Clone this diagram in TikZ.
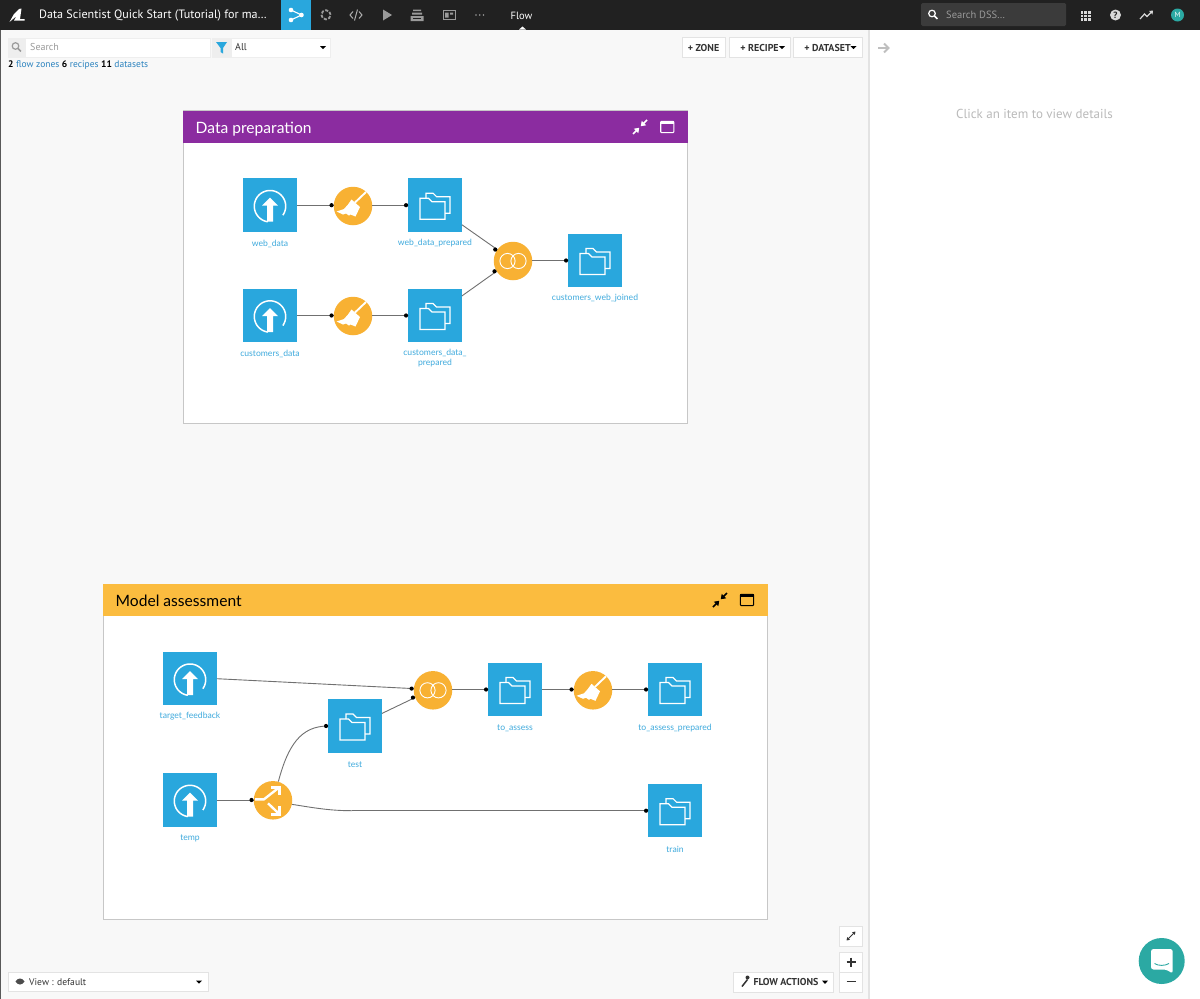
\documentclass[tikz,border=0pt]{standalone}
\usepackage{fontspec}
\setmainfont{Lato}
\newfontfamily\uifont{PT Sans}
\usetikzlibrary{arrows.meta,calc}
\definecolor{dsblue}{HTML}{29A7DD}
\definecolor{lblblue}{HTML}{3FAADD}
\definecolor{linkblue}{HTML}{2B82BE}
\definecolor{recipeor}{HTML}{F8B133}
\definecolor{zonepurple}{HTML}{8B2CA0}
\definecolor{zoneorange}{HTML}{FBBC3F}
\definecolor{barblack}{HTML}{212121}
\definecolor{canvasgr}{HTML}{F8F8F8}
\definecolor{edgegr}{HTML}{E3E3E3}
\definecolor{teal}{HTML}{2BA9A3}
\definecolor{iconfg}{HTML}{9A9A9A}
\definecolor{txtdark}{HTML}{333333}
\definecolor{connline}{HTML}{707070}
\tikzset{
  ds/.style={rectangle,fill=dsblue,minimum size=53.5pt,inner sep=0pt},
  recipe/.style={circle,fill=recipeor,minimum size=38.5pt,inner sep=0pt},
  lbl/.style={text=lblblue,inner sep=0pt,align=center,font=\fontsize{8.6}{10.2}\selectfont},
  conn/.style={draw=connline,line width=0.9pt},
  dotn/.style={circle,fill=black,draw=none,minimum size=4.2pt,inner sep=0pt,pos=1,xshift=-2pt},
  plain/.style={draw=connline,line width=0.9pt},
  zonebox/.style={draw=black!22,fill=white,line width=0.8pt},
  zonetitle/.style={anchor=west,inner sep=0pt,text height=11.5pt,text depth=3.5pt,font=\fontsize{15.6}{18}\selectfont},
  uibtn/.style={draw=edgegr,fill=white,line width=0.8pt,rectangle,inner sep=0pt,text=txtdark,font=\uifont\bfseries\fontsize{10}{12}\selectfont},
  uitxt/.style={inner sep=0pt,anchor=west,font=\uifont\fontsize{10}{12}\selectfont},
  foldericon/.pic={
    \draw[white,line width=1.3pt,line join=miter] (-15,-7)--(-6.5,-7)--(-3,-3.5)--(10,-3.5)--(10,14)--(-15,14)--cycle;
    \draw[white,line width=1.1pt] (-9,-7)--(-9,-12)--(-2,-12)--(1.5,-8.5)--(15,-8.5)--(15,8)--(10,8);
  },
  uploadicon/.pic={
    \draw[white,line width=1.5pt] plot[domain=-35:262,samples=50] ({15.7*cos(\x)},{1-15.7*sin(\x)});
    \fill[white] (0,-7.5)--(8,0.5)--(3,0.5)--(3,16.5)--(-3,16.5)--(-3,0.5)--(-8,0.5)--cycle;
  },
  broomicon/.pic={
    \draw[white,line width=1.9pt] (13,-14)--(2,-3.5);
    \fill[white] (-1.5,-6.5)--(7,1)--(2.5,10.5)--(-2.5,8.5)--(-4,9.5)--(-7,7.5)--(-10,8.5)--(-16.5,5.5)--(-9,3)--(-5,-1.5)--cycle;
  },
  joinicon/.pic={
    \draw[white,line width=0.9pt] (-5.5,0) circle[radius=7.6pt] (5.5,0) circle[radius=7.6pt];
  },
  spliticon/.pic={
    \draw[white,line width=2.4pt,line join=miter] (-18,-1)--(-9,-1)--(5,-12);
    \draw[white,line width=2.4pt] (-2,-13)--(6.5,-13)--(6.5,-5);
    \draw[white,line width=2.4pt] (-5,3)--(6,13.5);
    \draw[white,line width=2.4pt] (-2,14)--(6.5,14)--(6.5,5.5);
  },
  collapseicon/.pic={
    \draw[line width=1.7pt,-{Triangle[length=4.4pt,width=6pt]}] (-7,7)--(-0.8,0.8);
    \draw[line width=1.7pt,-{Triangle[length=4.4pt,width=6pt]}] (7,-7)--(0.8,-0.8);
  },
  windowicon/.pic={
    \draw[line width=1.1pt,rounded corners=0.8pt] (-6.6,-5.5) rectangle (6.6,5.6);
    \fill (-6.6,-6)rectangle(6.6,-3.4);
  },
  caretic/.pic={\fill (-3,-1.5)--(3,-1.5)--(0,1.6)--cycle;},
  lensic/.pic={
    \draw[line width=1.2pt] (-1,-1) circle[radius=3.3pt];
    \draw[line width=1.5pt] (1.4,1.4)--(4.4,4.4);
  }
}
\begin{document}
\begin{tikzpicture}[x=1pt,y=-1pt]
\useasboundingbox (0,0) rectangle (1200,999);
% canvas and panels
\fill[canvasgr] (0,0) rectangle (869,999);
\fill[white] (869,0) rectangle (1200,999);
\fill[edgegr] (868,29) rectangle (870,999);
\fill[black!65] (0,29) rectangle (0.7,999);
% top bar
\fill[barblack] (0,0) rectangle (1200,29.5);
\fill[dsblue] (281,0) rectangle (311,29.5);
\fill[white] (9.5,22)--(14,14)--(19,9)--(21.5,8.5)--(20,19)--(24.5,19)--(24.5,20.5)--(14,20.5)--(16.5,16)--cycle;
\node[uitxt,text=white] (projtitle) at (39,15.5) {\fontsize{12.1}{14}\selectfont Data Scientist Quick Start (Tutorial) for ma\dots};
% tab icons
\draw[white,line width=1.1pt] (291,10)--(301.5,15)--(291,20);
\fill[white] (291,10) circle[radius=2.3pt] (301.5,15) circle[radius=2.3pt] (291,20) circle[radius=2.3pt];
\draw[iconfg,line width=1.8pt,dash pattern=on 3.2pt off 1.5pt] (326,14.8) circle[radius=4.6pt];
\draw[iconfg!80,line width=1pt] (353,11.5)--(350,15)--(353,18.5) (359,11.5)--(362,15)--(359,18.5) (357.5,9.5)--(354.5,20.5);
\fill[iconfg] (383,9.5)--(392,15)--(383,20.5)--cycle;
\fill[iconfg] (413,9.5) rectangle (421,11) (412,12.5) rectangle (422,14.5) (410.5,16) rectangle (423.5,21);
\fill[barblack] (413,18) rectangle (421,19);
\draw[iconfg,line width=1pt] (443,10.5) rectangle (455,19.5);
\fill[iconfg] (445,12.5) rectangle (448.5,17.5) (450,12.5) rectangle (453,14.5);
\fill[iconfg] (476,15) circle[radius=0.9pt] (479.7,15) circle[radius=0.9pt] (483.4,15) circle[radius=0.9pt];
\node[uitxt,text=white,anchor=center] (flowtab) at (521.5,15.5) {\fontsize{10.5}{13}\selectfont Flow};
\fill[white] (519,29.6)--(522.5,26.5)--(526,29.6)--cycle;
% top right
\fill[white!23!black,rounded corners=1.5pt] (921,3) rectangle (1066,26);
\path[white] (933,14.5) pic[white] {lensic};
\node[uitxt,text=iconfg] (searchdss) at (946,15) {\fontsize{10.5}{12}\selectfont Search DSS\dots};
\foreach \i in {0,1,2}{\foreach \j in {0,1,2}{\fill[white!85!black] (1080.7+\i*3.7,10.8+\j*3.7) rectangle ++(2.7,2.7);}}
\fill[white!85!black] (1115.5,15) circle[radius=5.5pt];
\node[inner sep=0pt,text=barblack,font=\uifont\bfseries\fontsize{9}{9}\selectfont] (helpq) at (1115.5,15) {?};
\draw[white!85!black,line width=1.2pt] (1140,19)--(1144.5,14)--(1147,16.5)--(1152,11.5);
\fill[white!85!black] (1149,11)--(1153,10.5)--(1152.5,14.5)--cycle;
\node[circle,fill=teal,minimum size=13pt,inner sep=0pt,text=white,font=\uifont\fontsize{7.5}{8}\selectfont] (avatar) at (1177.5,15) {M};
% search row
\fill[edgegr!60] (7.5,37.5) rectangle (210.5,57.5);
\fill[white] (26,38.5) rectangle (209.5,56.5);
\path (16.5,47) pic[iconfg] {lensic};
\node[uitxt,text=iconfg] (searchtxt) at (30,47) {\fontsize{10}{12}\selectfont Search};
\fill[edgegr!60] (212,37.5) rectangle (331,57.5);
\fill[white] (232,38.5) rectangle (330,56.5);
\fill[dsblue] (216,42)--(227,42)--(223,48)--(223,53.5)--(220.5,52)--(220.5,48)--cycle;
\node[uitxt,text=txtdark] (alltxt) at (235,47) {\fontsize{10}{12}\selectfont All};
\path (323,47.5) pic[black] {caretic};
\node[uitxt] (status) at (8,65.5) {\fontsize{9.5}{12}\selectfont\textbf{2} \textcolor{linkblue}{flow zones} \textbf{6} \textcolor{linkblue}{recipes} \textbf{11} \textcolor{linkblue}{datasets}};
\node[uibtn,minimum width=43pt,minimum height=19.5pt] (zonebtn) at (703.5,47.5) {+ ZONE};
\node[uibtn,minimum width=61pt,minimum height=19.5pt] (recipebtn) at (759.5,47.5) {+ RECIPE\hspace{16pt}};
\path (782,47.5) pic[black] {caretic};
\node[uibtn,minimum width=69pt,minimum height=19.5pt] (datasetbtn) at (827.5,47.5) {+ DATASET\hspace{21pt}};
\path (853.5,47.5) pic[black] {caretic};
% right panel
\draw[black!25,line width=2pt] (878,48)--(888,48);
\draw[black!25,line width=2pt] (884,43.5)--(888.5,48)--(884,52.5);
\node[inner sep=0pt,text=black!27,font=\uifont\fontsize{13}{16}\selectfont] (clickmsg) at (1034.5,114) {Click an item to view details};
% ZONE 1
\draw[zonebox] (183.5,110.5) rectangle (687.5,423);
\fill[zonepurple] (183,110.5) rectangle (688,143);
\node[zonetitle,text=white] (zone1t) at (195.5,129.5) {Data preparation};
\path (640,127) pic[white,fill=white] {collapseicon};
\path (667.3,127) pic[white,fill=white] {windowicon};
\node[ds] (webdata) at (270,205.2) {};
\node[recipe] (broomA) at (353,206) {};
\node[ds] (wdp) at (435,205.2) {};
\node[ds] (custdata) at (270,315.5) {};
\node[recipe] (broomB) at (353,316) {};
\node[ds] (cdp) at (435,315.5) {};
\node[recipe] (joinA) at (513,261) {};
\node[ds] (cwj) at (595,260.5) {};
\path (webdata) pic {uploadicon};
\path (custdata) pic {uploadicon};
\path (wdp) pic {foldericon};
\path (cdp) pic {foldericon};
\path (cwj) pic {foldericon};
\path (broomA) pic {broomicon};
\path (broomB) pic {broomicon};
\path (joinA) pic {joinicon};
\node[lbl] (lwd) at (270,243.5) {web\_data};
\node[lbl] (lwdp) at (435,243.5) {web\_data\_prepared};
\node[lbl] (lcd) at (270,353.5) {customers\_data};
\node[lbl] (lcdp) at (435,358) {customers\_data\_\\prepared};
\node[lbl] (lcwj) at (595,298.5) {customers\_web\_joined};
\draw[conn] (webdata.east) -- (broomA.west |- webdata.east) node[dotn] (d1) {};
\draw[conn] (broomA.east |- wdp.west) -- (wdp.west) node[dotn] (d2) {};
\draw[conn] (custdata.east) -- (broomB.west |- custdata.east) node[dotn] (d3) {};
\draw[conn] (broomB.east |- cdp.west) -- (cdp.west) node[dotn] (d4) {};
\draw[conn] (wdp.-36) -- (joinA.144) node[dotn] (d5) {};
\draw[conn] (cdp.36) -- (joinA.212) node[dotn] (d6) {};
\draw[conn] (joinA.east |- cwj.west) -- (cwj.west) node[dotn] (d7) {};
% ZONE 2
\draw[zonebox] (103.5,584) rectangle (767.5,919);
\fill[zoneorange] (103,584) rectangle (768,616);
\node[zonetitle,text=black] (zone2t) at (115.5,602.5) {Model assessment};
\path (720,600) pic[black,fill=black] {collapseicon};
\path (747,600) pic[black,fill=black] {windowicon};
\node[ds] (tfb) at (190,678.7) {};
\node[ds] (temp) at (190,800) {};
\node[recipe] (splitA) at (273,800.3) {};
\node[ds] (test) at (355,726) {};
\node[recipe] (joinB) at (433,690.3) {};
\node[ds] (toa) at (515,689.5) {};
\node[recipe] (broomC) at (593,690.3) {};
\node[ds] (toap) at (675,689.5) {};
\node[ds] (train) at (675,810.7) {};
\path (tfb) pic {uploadicon};
\path (temp) pic {uploadicon};
\path (test) pic {foldericon};
\path (toa) pic {foldericon};
\path (toap) pic {foldericon};
\path (train) pic {foldericon};
\path (splitA) pic {spliticon};
\path (joinB) pic {joinicon};
\path (broomC) pic {broomicon};
\node[lbl] (ltfb) at (190,716.5) {target\_feedback};
\node[lbl] (ltemp) at (190,838) {temp};
\node[lbl] (ltest) at (355,764.5) {test};
\node[lbl] (ltoa) at (515,728.5) {to\_assess};
\node[lbl] (ltoap) at (675,728.5) {to\_assess\_prepared};
\node[lbl] (ltrain) at (675,849.5) {train};
\draw[conn] (tfb.0) -- (joinB.175) node[dotn] (d8) {};
\draw[conn] (test.25) -- (joinB.202) node[dotn] (d9) {};
\draw[conn] (temp.east) -- (splitA.west |- temp.east) node[dotn] (d10) {};
\draw[conn] (splitA.74) .. controls (288,745) and (301,726) .. (test.west) node[dotn] (d11) {};
\coordinate (trainbend) at (352,810.7);
\draw[plain] (splitA.-12) .. controls (315,808) and (330,810.7) .. (trainbend);
\draw[conn] (trainbend) -- (train.west) node[dotn] (d12) {};
\draw[conn] (joinB.east |- toa.west) -- (toa.west) node[dotn] (d13) {};
\draw[conn] (toa.east) -- (broomC.west |- toa.east) node[dotn] (d14) {};
\draw[conn] (broomC.east |- toap.west) -- (toap.west) node[dotn] (d15) {};
% bottom controls
\node[uibtn,minimum width=200pt,minimum height=19pt] (viewbox) at (108,981.5) {};
\fill[black!70] (15.5,981.5) .. controls (18,977.5) and (22,977.5) .. (24.5,981.5) .. controls (22,985.5) and (18,985.5) .. (15.5,981.5) -- cycle;
\node[uitxt,text=txtdark] (viewtxt) at (29,982) {\fontsize{9.6}{12}\selectfont View : default};
\path (199,982) pic[black] {caretic};
\node[uibtn,minimum width=100pt,minimum height=19.5pt] (flowact) at (783,982.2) {\hspace{6pt}FLOW ACTIONS\hspace{12pt}};
\draw[black!80,line width=1.5pt] (742,986.5)--(747.5,979.5);
\fill[black!80] (747.5,977.5) circle[radius=2pt];
\path (825,982.2) pic[black] {caretic};
\node[uibtn,minimum width=23pt,minimum height=20pt] (fitbtn) at (851,936) {};
\draw[black!80,line width=0.9pt,{Triangle[length=3pt,width=3.6pt]}-{Triangle[length=3pt,width=3.6pt]}] (846.5,940.5)--(855.5,931.5);
\node[uibtn,minimum width=23pt,minimum height=20pt] (plusbtn) at (851,962) {};
\draw[black!80,line width=1.8pt] (846.5,962)--(855.5,962) (851,957.5)--(851,966.5);
\node[uibtn,minimum width=23pt,minimum height=20pt] (minusbtn) at (851,982) {};
\draw[black!80,line width=1.8pt] (846.5,981.5)--(855.5,981.5);
% chat
\node[circle,fill=teal,minimum size=46pt,inner sep=0pt] (chatbtn) at (1161.7,961) {};
\fill[white,rounded corners=2.5pt] (1151,949) -- (1172.7,949) -- (1172.7,973.5) -- (1166,969.5) -- (1151,969.5) -- cycle;
\draw[teal,line width=0.9pt] (1154.5,963.5) .. controls (1158,966) and (1165,966) .. (1169,963.5);
\end{tikzpicture}
\end{document}
